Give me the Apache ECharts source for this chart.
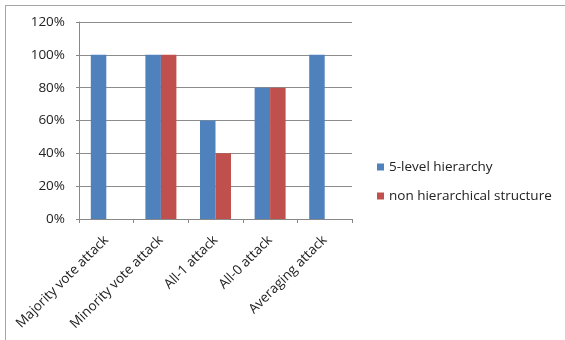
<!DOCTYPE html>
<html>
<head>
<meta charset="utf-8">
<script src="https://cdn.jsdelivr.net/npm/echarts@6/dist/echarts.min.js"></script>
<style>
html,body{margin:0;padding:0;background:#fff;}
#chart{width:565px;height:340px;}
</style>
</head>
<body>
<div id="chart"></div>
<script>
// Attack types along the x axis
var categories = ['Majority vote attack', 'Minority vote attack', 'All-1 attack', 'All-0 attack', 'Averaging attack'];
// Success rates in percent
var hierarchy5 = [100, 100, 60, 80, 100];
var nonHierarchical = [0, 100, 40, 80, 0];
var seriesNames = ['5-level hierarchy', 'non hierarchical structure'];
var yTicks = [0, 20, 40, 60, 80, 100, 120];

var font = 'Open Sans';
var fs = 13.5;
var chart = echarts.init(document.getElementById('chart'));
chart.setOption({
  animation: false,
  textStyle: { fontFamily: font },
  grid: { left: 79, top: 22, width: 273, height: 197, containLabel: false },
  legend: {
    orient: 'vertical',
    left: 372,
    top: 155,
    itemWidth: 7,
    itemHeight: 7,
    itemGap: 15,
    icon: 'rect',
    textStyle: { fontFamily: font, fontSize: fs, color: '#222', padding: [0, 0, 0, 0] },
    data: seriesNames
  },
  xAxis: {
    type: 'category',
    data: categories,
    axisLine: { lineStyle: { color: '#888', width: 1 } },
    axisTick: { show: true, length: 4, alignWithLabel: false, lineStyle: { color: '#888' } },
    axisLabel: { rotate: 45, interval: 0, fontSize: fs, color: '#222', margin: 19, fontFamily: font }
  },
  yAxis: {
    type: 'value',
    min: yTicks[0],
    max: yTicks[yTicks.length - 1],
    interval: 20,
    axisLine: { show: true, lineStyle: { color: '#888' } },
    axisTick: { show: true, length: 3, lineStyle: { color: '#888' } },
    splitLine: { lineStyle: { color: '#8c8c8c', width: 1 } },
    axisLabel: { formatter: '{value}%', fontSize: fs, color: '#222', margin: 14, fontFamily: font }
  },
  series: [
    {
      name: seriesNames[0], type: 'bar', data: hierarchy5,
      barWidth: 15.5, barGap: '0%',
      itemStyle: { color: '#4F81BD' }
    },
    {
      name: seriesNames[1], type: 'bar', data: nonHierarchical,
      barWidth: 15.5, barGap: '0%',
      itemStyle: { color: '#C0504D' }
    }
  ],
  graphic: [
    { type: 'line', shape: { x1: 5, y1: 5.5, x2: 565, y2: 5.5 }, style: { stroke: '#a6a6a6', lineWidth: 1 } },
    { type: 'line', shape: { x1: 5.5, y1: 5, x2: 5.5, y2: 340 }, style: { stroke: '#a6a6a6', lineWidth: 1 } }
  ]
});
</script>
</body>
</html>
